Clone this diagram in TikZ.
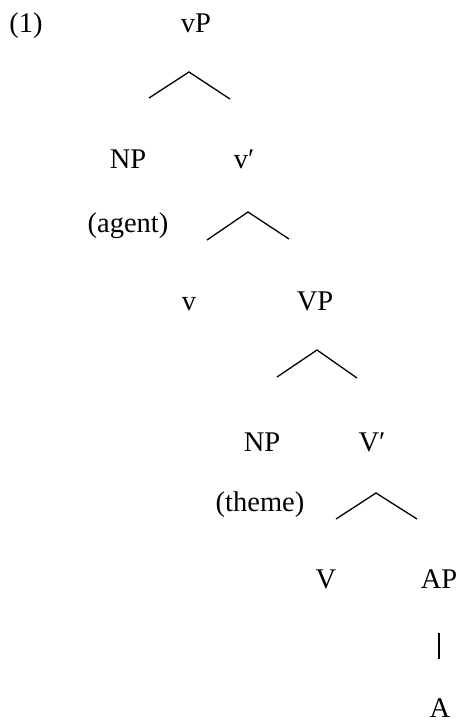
\documentclass[tikz,border=0pt]{standalone}
\usepackage{fontspec}
\setmainfont{Liberation Serif}
\usepackage{tikz}

\begin{document}
\begin{tikzpicture}[x=1pt,y=-1pt,
    lbl/.style={anchor=base,inner sep=0pt,font=\fontsize{28.5}{34}\selectfont},
    branch/.style={line width=1.3pt}]
    \useasboundingbox (0,0) rectangle (460,722);

    % Labels
    \node[lbl] (ex) at (26,33) {(1)};
    \node[lbl] (vP) at (196,33) {vP};
    \node[lbl] (NPa) at (128,168) {NP};
    \node[lbl] (vbar) at (244,168) {v′};
    \node[lbl] (agent) at (128,232) {(agent)};
    \node[lbl] (v) at (189,310) {v};
    \node[lbl] (VP) at (315,310) {VP};
    \node[lbl] (NPb) at (262,451) {NP};
    \node[lbl] (Vbar) at (372,451) {V′};
    \node[lbl] (theme) at (260,511) {(theme)};
    \node[lbl] (V) at (326,588) {V};
    \node[lbl] (AP) at (439,588) {AP};
    \node[lbl] (A) at (440,717) {A};

    % Branch points
    \coordinate (top1) at (189,72);
    \coordinate (l1) at (149,98);
    \coordinate (r1) at (230,99);
    \coordinate (top2) at (248,212);
    \coordinate (l2) at (207,240);
    \coordinate (r2) at (289,239);
    \coordinate (top3) at (317,350);
    \coordinate (l3) at (277,377);
    \coordinate (r3) at (357,378);
    \coordinate (top4) at (376,493);
    \coordinate (l4) at (336,519);
    \coordinate (r4) at (417,519);
    \coordinate (bar1) at (439,633);
    \coordinate (bar2) at (439,659);

    % Branches
    \draw[branch] (l1) -- (top1) -- (r1);
    \draw[branch] (l2) -- (top2) -- (r2);
    \draw[branch] (l3) -- (top3) -- (r3);
    \draw[branch] (l4) -- (top4) -- (r4);
    \draw[branch] (bar1) -- (bar2);
\end{tikzpicture}
\end{document}
